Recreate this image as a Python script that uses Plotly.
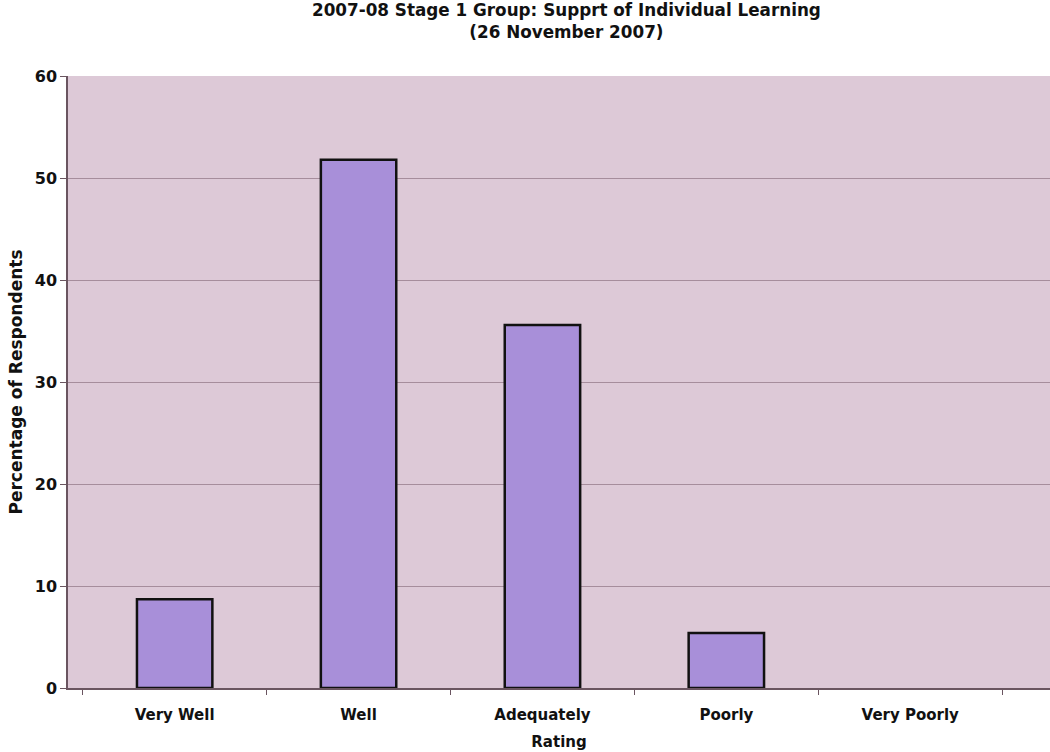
import plotly.graph_objects as go

# Survey responses: share of respondents per rating
ratings = ["Very Well", "Well", "Adequately", "Poorly", "Very Poorly"]
percentages = [8.7, 51.8, 35.6, 5.4, 0.0]

y_ticks = [0, 10, 20, 30, 40, 50, 60]

title_lines = ["2007-08 Stage 1 Group: Supprt of Individual Learning", "(26 November 2007)"]

FONT = "DejaVu Sans"
INK = "#111111"

# an empty category gets no outline so nothing is drawn on the axis
outline_widths = [2.5 if v > 0 else 0 for v in percentages]

fig = go.Figure(
    go.Bar(
        x=ratings,
        y=percentages,
        width=0.41,
        marker=dict(color="#a88fd9", line=dict(color=INK, width=outline_widths)),
    )
)

fig.update_layout(
    width=1050,
    height=752,
    margin=dict(l=68, r=0, t=76, b=64),
    paper_bgcolor="white",
    plot_bgcolor="#ddc9d7",
    showlegend=False,
    font=dict(family=FONT, color=INK),
)

fig.add_annotation(
    text="<b>" + "<br>".join(title_lines) + "</b>",
    xref="paper",
    yref="paper",
    x=0.508,
    y=1.09,
    xanchor="center",
    yanchor="middle",
    showarrow=False,
    align="center",
    font=dict(family=FONT, size=16.8, color=INK),
)

fig.update_xaxes(
    type="category",
    range=[-0.58, 4.76],
    tickvals=ratings,
    ticktext=[f"<b>{r}</b>" for r in ratings],
    showgrid=False,
    showline=True,
    linecolor="#6a5560",
    linewidth=1.5,
    ticks="outside",
    tickson="boundaries",
    ticklen=5,
    tickcolor="#6a5560",
    tickfont=dict(family=FONT, size=15, color=INK),
    ticklabelstandoff=12,
    title=dict(text="<b>Rating</b>", font=dict(family=FONT, size=15, color=INK), standoff=14),
)

fig.update_yaxes(
    range=[0, 60],
    tickvals=y_ticks,
    ticktext=[f"<b>{v}</b>" for v in y_ticks],
    showgrid=True,
    gridcolor="#a68d9c",
    gridwidth=1,
    showline=True,
    linecolor="#6a5560",
    linewidth=1.5,
    ticks="outside",
    ticklen=6,
    tickcolor="#6a5560",
    tickfont=dict(family=FONT, size=16, color=INK),
    zeroline=False,
    title=dict(
        text="<b>Percentage of Respondents</b>",
        font=dict(family=FONT, size=17, color=INK),
        standoff=8,
    ),
)

fig.write_html("out.html")
